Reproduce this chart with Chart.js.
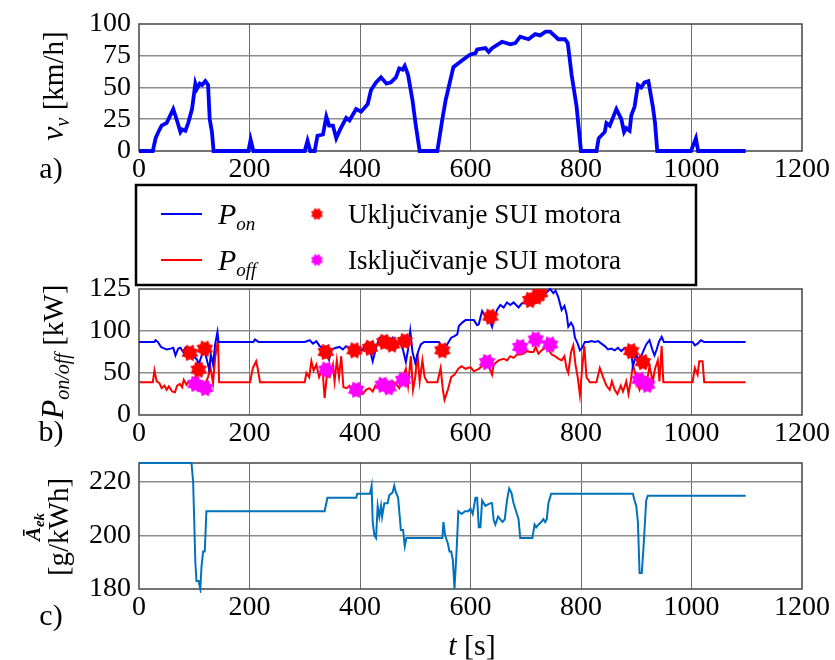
<!DOCTYPE html>
<html>
<head>
<meta charset="utf-8">
<script src="https://cdn.jsdelivr.net/npm/chart.js@4.4.1/dist/chart.umd.min.js"></script>
<style>
  html, body { margin: 0; padding: 0; background: #fff; }
  #wrap { position: relative; width: 835px; height: 660px; overflow: hidden; }
  canvas { position: absolute; left: 0; }
</style>
</head>
<body>
<div id="wrap">
  <canvas id="cA" width="835" height="190" style="top:0px"></canvas>
  <canvas id="cB" width="835" height="275" style="top:175px"></canvas>
  <canvas id="cC" width="835" height="220" style="top:440px"></canvas>
</div>
<script>
// ---- data ----
const xTicks = [0, 200, 400, 600, 800, 1000, 1200];
const speedTicks = [0, 25, 50, 75, 100];
const powerTicks = [0, 50, 100, 150];
const powerTickLabels = ["0", "50", "100", "125"];
const aekTicks = [180, 200, 220];

// a) vehicle speed
const speedT = [0,25,30,35,41,45,50,62,68,75, 78,84,89,96,102,105,110,114,120,125,
  128,132,135,198,202,207,300,305,310,318, 323,333,339,344,351,357,363,375,381,393,
  402,414,420,429,438,448,456,465,471,477, 481,487,495,501,508,540,549,555,569,584,
  596,600,609,612,627,633,639,657,672,681, 690,705,717,726,736,744,759,771,776,783,
  792,800,828,832,843,846,852,864,873,878, 882,888,891,897,903,909,915,922,930,934,
  938,999,1008,1012,1098];
const speedV = [0,0,10,15,20,21,22,33,25,15, 17,16,22,33,53,49,53,52,55,52,
  25,15,0,0,9,0,0,8,0,0, 12,13,27,20,20,10,16,26,24,33,
  31,37,48,54,58,53,54,58,65,64, 67,60,40,20,0,0,25,40,66,71,
  75,76,77,80,81,78,81,86,84,85, 90,88,92,91,94,94,88,88,85,60,
  35,0,0,10,15,22,20,33,25,15, 18,16,28,35,52,50,54,55,35,22,
  0,0,10,0,0];

// b) P_on
const pOnT = [0,28,30,34,40,46,51,57,62,66,71,75,80,84,90,99,105,108,113,117,122,127,130,134,138,142,144,
  207,210,216,300,309,315,321,327,333,339,344,348,357,363,369,375,381,387,393,399,405,411,417,423,429,
  435,441,447,453,459,465,471,477,483,487,491,495,500,505,510,516,543,549,557,565,571,576,579,585,591,
  600,606,612,615,621,627,633,639,642,648,654,660,666,672,678,684,687,693,699,705,711,717,726,732,738,
  744,750,754,759,765,770,774,777,782,786,789,794,798,802,807,813,819,825,831,837,843,849,855,861,867,
  873,879,885,891,894,900,906,912,918,924,929,933,937,941,946,950,1002,1006,1011,1017,1023,1098];
const pOnV = [87,87,89,87,81,79,78,79,80,71,79,80,75,80,76,70,66,60,70,80,68,54,72,60,85,99,87,
  87,90,87,87,89,85,88,82,80,75,66,78,80,81,78,82,80,79,80,76,78,85,80,64,80,
  92,93,88,88,92,85,88,80,63,78,100,75,62,75,84,87,87,80,83,92,94,96,106,110,113,
  113,113,107,108,124,118,116,105,115,125,131,128,134,131,134,130,128,133,133,135,135,138,140,143,146,
  150,145,148,140,125,130,120,105,110,105,92,85,77,80,87,87,88,87,88,85,82,78,79,77,80,
  76,80,77,73,58,72,64,75,84,89,78,71,78,87,93,87,87,83,85,89,87,87];

// b) P_off
const pOffT = [0,25,28,32,37,41,46,50,54,60,65,69,74,78,81,86,90,96,102,108,114,120,125,129,134,138,143,145,
  201,206,212,215,219,300,303,308,312,316,321,326,332,336,340,345,351,354,358,362,366,370,376,381,387,
  393,399,405,411,417,423,428,432,436,441,447,453,459,465,471,477,483,487,492,496,500,504,508,513,517,
  522,540,546,550,553,559,565,571,578,584,591,600,606,615,624,633,639,642,651,660,666,672,678,684,690,
  696,702,708,714,718,723,729,735,741,747,753,759,765,770,774,777,782,786,790,794,798,802,806,810,816,
  828,834,840,846,852,856,861,866,872,876,882,886,890,894,900,906,912,918,924,930,934,939,942,946,949,
  1002,1006,1011,1014,1020,1023,1098];
const pOffV = [39,39,53,40,38,32,35,30,34,28,27,35,37,33,42,36,40,37,45,38,32,38,45,58,38,69,90,39,
  39,56,64,55,39,39,50,45,64,53,60,45,55,20,47,45,60,40,65,45,70,33,32,35,30,
  28,25,25,30,32,28,35,33,40,35,30,35,40,37,32,45,55,35,70,30,45,73,40,65,45,
  39,39,56,30,18,30,45,48,55,58,55,57,52,55,60,58,48,60,65,67,65,70,68,72,72,
  73,76,75,75,81,73,77,80,78,72,70,67,65,70,55,50,75,83,60,45,24,55,82,45,39,
  39,56,45,35,30,40,30,25,35,28,40,25,40,60,45,30,40,35,58,40,55,65,40,82,39,
  39,56,48,64,64,39,39];

// b) engine switch-on / switch-off events
const onT = [92,108,119,338,390,418,444,458,481,549,636,708,720,726,891,912];
const onP = [74,54,79,75,77,80,87,84,88,77,117,137,141,145,76,63];
const offT = [102,120,339,393,441,452,478,630,690,718,744,906,920];
const offP = [37,32,54,30,36,33,42,63,81,90,84,42,36];

// c) A_ek
const aekT = [0,95,98,100,102,104,108,111,113,116,119,122,336,341,393,395,418,421,423,426,429,432,435,438,440,
  444,450,453,459,462,465,469,474,478,481,484,549,551,554,559,562,565,568,571,575,578,584,590,596,600,604,
  609,612,615,618,621,627,636,639,642,645,650,654,658,662,666,670,674,678,684,687,690,712,716,719,723,728,
  732,735,738,741,746,894,897,900,903,906,910,913,918,921,1098];
const aekV = [227,227,220,205,190,183,183,180,188,194,194,209,209,214,214,215.5,215.5,218.5,205,200,199,211,207,211,207,
  212,212,215,216,218.5,216,214,202,202,196,199,199,205,200,197,194,194,191,180,195,209,208,209,209,210,208,
  214,214,203,203,213,211,212,212,205.6,204,207,206,205,206,213,217.5,216,212,208,206,199,199,204,203,204,205,
  206,205,206,212,215.5,215.5,213,211,205,186,186,195,213,214.8,214.8];

// ---- helpers ----
const SERIF = "'Liberation Serif', 'Times New Roman', Times, serif";
const tickFont = { family: SERIF, size: 28, lineHeight: 1 };
const pts = (t, v) => t.map((x, i) => ({ x: x, y: v[i] }));
const inner = c => c.tick && c.tick.value > c.scale.min && c.tick.value < c.scale.max;

// gear-like marker, like the thick asterisk of the original
function flower(color, R) {
  const size = Math.ceil(2 * R + 2);
  const c = document.createElement("canvas");
  c.width = c.height = size;
  const g = c.getContext("2d");
  g.fillStyle = color;
  g.beginPath();
  const n = 8;
  for (let k = 0; k < 2 * n; k++) {
    const a = k * Math.PI / n + Math.PI / 8;
    const r = k % 2 ? R * 0.7 : R;
    g.lineTo(size / 2 + r * Math.cos(a), size / 2 + r * Math.sin(a));
  }
  g.closePath();
  g.fill();
  return c;
}
const redStar = flower("#ff0000", 9);
const pinkStar = flower("#ff00ff", 9);

function xAxis(h) {
  return {
    type: "linear", min: 0, max: 1200,
    afterBuildTicks: s => { s.ticks = xTicks.map(v => ({ value: v })); },
    afterFit: s => { s.height = h; },
    ticks: { font: tickFont, color: "#000", padding: 5, maxRotation: 0, autoSkip: false, callback: v => String(v) },
    grid: { color: c => inner(c) ? "#6e6e6e" : "rgba(0,0,0,0)", lineWidth: 1, drawTicks: false },
    border: { display: false }
  };
}

function yAxis(min, max, ticks, labels) {
  return {
    min: min, max: max,
    afterBuildTicks: s => { s.ticks = ticks.map(v => ({ value: v })); },
    afterFit: s => { s.width = 139; },
    ticks: { font: tickFont, color: "#000", padding: 8, callback: (v, i) => labels ? labels[i] : String(v) },
    grid: { color: c => inner(c) ? "#8c8c8c" : "rgba(0,0,0,0)", lineWidth: 1.6, drawTicks: false },
    border: { display: false }
  };
}

function fnt(p) {
  return (p.i ? "italic " : "") + (p.b ? "bold " : "") + p.s + "px " + SERIF;
}

// draw mixed-style text (subscripts), centred or left aligned on baseline y
function drawRich(ctx, parts, x, y, align) {
  let w = 0;
  parts.forEach(p => { ctx.font = fnt(p); p.w = ctx.measureText(p.t).width; w += p.w; });
  let cx = align === "left" ? x : x - w / 2;
  ctx.fillStyle = "#000";
  ctx.textAlign = "left";
  ctx.textBaseline = "alphabetic";
  parts.forEach(p => { ctx.font = fnt(p); ctx.fillText(p.t, cx, y + (p.dy || 0)); cx += p.w; });
}

function vertRich(ctx, parts, x, y) {
  ctx.save();
  ctx.translate(x, y);
  ctx.rotate(-Math.PI / 2);
  drawRich(ctx, parts, 0, 0);
  ctx.restore();
}

// texts around each panel (page coords minus canvas top)
const deco = {
  cA(ctx) {
    const top = 0;
    vertRich(ctx, [{ t: "v", s: 32, i: 1 }, { t: "v", s: 20, i: 1, dy: 6 }, { t: " [km/h]", s: 29 }], 63, 86 - top);
    drawRich(ctx, [{ t: "a)", s: 30 }], 51, 178 - top);
  },
  cB(ctx, chart) {
    const top = 175;
    vertRich(ctx, [{ t: "P", s: 32, i: 1 }, { t: "on/off", s: 20, i: 1, dy: 6 }, { t: " [kW]", s: 29 }], 63, 352 - top);
    drawRich(ctx, [{ t: "b)", s: 30 }], 51, 441 - top);
    // legend box
    const ds = chart.data.datasets;
    ctx.save();
    ctx.fillStyle = "#fff";
    ctx.fillRect(136, 185 - top, 560, 100);
    ctx.strokeStyle = "#000";
    ctx.lineWidth = 2.5;
    ctx.strokeRect(136, 185 - top, 560, 100);
    const rows = [214 - top, 260 - top];
    [ds[2], ds[3]].forEach((d, k) => {
      ctx.strokeStyle = d.borderColor;
      ctx.lineWidth = 2;
      ctx.beginPath();
      ctx.moveTo(161, rows[k]);
      ctx.lineTo(202, rows[k]);
      ctx.stroke();
    });
    const small = [flower(ds[0].borderColor, 6.5), flower(ds[1].borderColor, 6.5)];
    small.forEach((img, k) => ctx.drawImage(img, 317 - img.width / 2, rows[k] - img.height / 2));
    ctx.restore();
    drawRich(ctx, [{ t: "P", s: 30, i: 1 }, { t: "on", s: 19, i: 1, dy: 6 }], 218, rows[0] + 10, "left");
    drawRich(ctx, [{ t: "P", s: 30, i: 1 }, { t: "off", s: 19, i: 1, dy: 6 }], 218, rows[1] + 10, "left");
    drawRich(ctx, [{ t: ds[0].label, s: 27 }], 348, rows[0] + 9, "left");
    drawRich(ctx, [{ t: ds[1].label, s: 27 }], 348, rows[1] + 9, "left");
  },
  cC(ctx) {
    const top = 440;
    vertRich(ctx, [{ t: "\u0100", s: 21, i: 1, b: 1 }, { t: "ek", s: 15, i: 1, b: 1, dy: 4 }], 40, 527 - top);
    vertRich(ctx, [{ t: "[g/kWh]", s: 29 }], 68, 527 - top);
    drawRich(ctx, [{ t: "c)", s: 30 }], 51, 625 - top);
    drawRich(ctx, [{ t: "t", s: 30, i: 1 }, { t: " [s]", s: 30 }], 472, 655 - top);
  }
};

const framePlugin = {
  id: "frame",
  beforeDatasetsDraw(chart) {
    const a = chart.chartArea, ctx = chart.ctx;
    ctx.save();
    ctx.strokeStyle = "#454545";
    ctx.lineWidth = 1.5;
    ctx.strokeRect(a.left, a.top, a.right - a.left, a.bottom - a.top);
    ctx.restore();
  },
  afterDraw(chart) {
    const d = deco[chart.canvas.id];
    if (d) d(chart.ctx, chart);
  }
};
Chart.register(framePlugin);

const common = {
  responsive: false,
  animation: false,
  plugins: { legend: { display: false }, tooltip: { enabled: false } },
  elements: { line: { tension: 0 } }
};

// a) speed
new Chart(document.getElementById("cA"), {
  type: "line",
  data: {
    datasets: [{
      label: "v_v",
      data: pts(speedT, speedV),
      borderColor: "#0000ff",
      borderWidth: 3.8,
      pointRadius: 0,
      clip: 4
    }]
  },
  options: {
    ...common,
    layout: { padding: { left: 0, right: 30, top: 24, bottom: 0 } },
    scales: { x: xAxis(39), y: yAxis(0, 100, speedTicks) }
  }
});

// b) power thresholds and switching events
new Chart(document.getElementById("cB"), {
  type: "line",
  data: {
    datasets: [
      {
        label: "Uključivanje SUI motora",
        data: pts(onT, onP),
        showLine: false,
        pointStyle: redStar,
        pointRadius: 9,
        borderColor: "#ff0000",
        backgroundColor: "#ff0000",
        order: 0
      },
      {
        label: "Isključivanje SUI motora",
        data: pts(offT, offP),
        showLine: false,
        pointStyle: pinkStar,
        pointRadius: 9,
        borderColor: "#ff00ff",
        backgroundColor: "#ff00ff",
        order: 1
      },
      {
        label: "P_on",
        data: pts(pOnT, pOnV),
        borderColor: "#0000ff",
        borderWidth: 2,
        pointRadius: 0,
        clip: 3,
        order: 2
      },
      {
        label: "P_off",
        data: pts(pOffT, pOffV),
        borderColor: "#ff0000",
        borderWidth: 2,
        pointRadius: 0,
        order: 3
      }
    ]
  },
  options: {
    ...common,
    layout: { padding: { left: 0, right: 30, top: 114, bottom: 0 } },
    scales: { x: xAxis(35), y: yAxis(0, 150, powerTicks, powerTickLabels) }
  }
});

// c) A_ek
new Chart(document.getElementById("cC"), {
  type: "line",
  data: {
    datasets: [{
      label: "A_ek",
      data: pts(aekT, aekV),
      borderColor: "#0072bd",
      borderWidth: 2,
      pointRadius: 0,
      clip: 4
    }]
  },
  options: {
    ...common,
    layout: { padding: { left: 0, right: 30, top: 23, bottom: 0 } },
    scales: { x: xAxis(71), y: yAxis(180, 227, aekTicks) }
  }
});
</script>
</body>
</html>
